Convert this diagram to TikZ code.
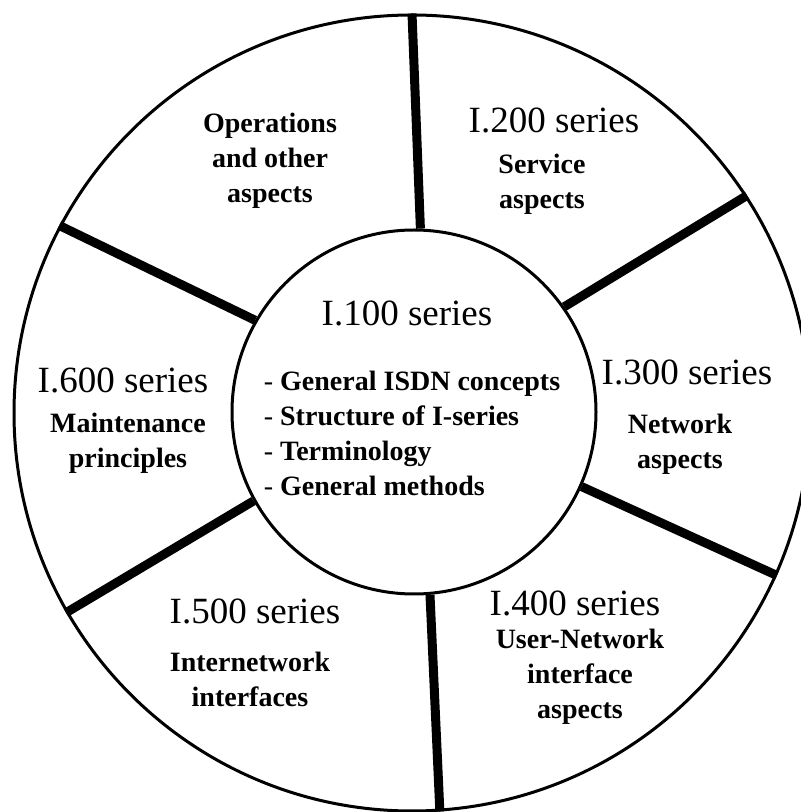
\documentclass[tikz,border=0pt]{standalone}
\usepackage{fontspec}
\setmainfont{Liberation Serif}
\usepackage{tikz}
\usetikzlibrary{positioning}

\begin{document}
\begin{tikzpicture}[
    x=1pt, y=1pt,
    ring/.style={circle, draw=black, line width=3pt, inner sep=0pt},
    spoke/.style={line width=9pt, draw=black},
    series/.style={font=\fontsize{37}{40}\selectfont, inner sep=0pt},
    aspect/.style={font=\fontsize{28}{35}\selectfont\bfseries, align=center, inner sep=0pt},
    topics/.style={font=\fontsize{28}{35}\selectfont\bfseries, align=left, inner sep=0pt}
]
\useasboundingbox (0,0) rectangle (801,812);
\clip (0,0) rectangle (801,812);

% Rings
\node[ring, minimum size=796pt] (rim) at (412,399) {};
\node[ring, minimum size=364pt] (core) at (414,400) {};

% Spokes between the rings
\foreach \a/\b in {88/90, 35/33, -24/-24, -85/-86, 209/210, 150/152}
    \draw[spoke] (core.\a) -- (rim.\b);

% Centre: I.100
\node[series] (s100) at (407,499) {I.100 series};
\node[topics] (s100txt) at (412,379) {{\mdseries -}~General ISDN concepts\\{\mdseries -}~Structure of I-series\\{\mdseries -}~Terminology\\{\mdseries -}~General methods};

% Outer sectors
\node[aspect] (ops) at (270,651) {Operations\\and other\\aspects};

\node[series] (s200) at (554,692) {I.200 series};
\node[aspect] (s200txt) at (542,628) {Service\\aspects};

\node[series] (s300) at (687,440) {I.300 series};
\node[aspect] (s300txt) at (680,368) {Network\\aspects};

\node[series] (s400) at (575,209) {I.400 series};
\node[aspect] (s400txt) at (580,135) {User-Network\\interface\\aspects};

\node[series] (s500) at (255,201) {I.500 series};
\node[aspect] (s500txt) at (250,133) {Internetwork\\interfaces};

\node[series] (s600) at (123,432) {I.600 series};
\node[aspect] (s600txt) at (128,369) {Maintenance\\principles};

\end{tikzpicture}
\end{document}
